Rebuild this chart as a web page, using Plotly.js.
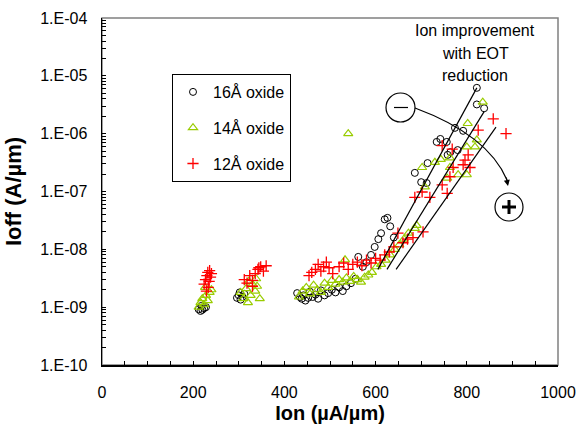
<!DOCTYPE html>
<html><head><meta charset="utf-8">
<script src="https://cdn.plot.ly/plotly-3.0.1.min.js"></script>
<style>html,body{margin:0;padding:0;background:#fff}#chart{width:576px;height:429px}</style>
</head><body><div id="chart"></div>
<script>
// ---- data ----
const ion16 = [212,216,220,224,228,218, 296,300,304,308,312,302, 428,434,438,442,446,452,456,462,468,474,480,488,496,504,512,520,528,536, 546,556,562,572,580,590,598,606,612,620,626,632,640, 686,700,712,714,734,742,756,758,764,780,774,792,822,838,822];
const ioff16 = [9.2e-10,8.6e-10,9.0e-10,9.6e-10,1.0e-9,1.05e-9, 1.45e-9,1.6e-9,1.35e-9,1.5e-9,1.7e-9,1.8e-9, 1.75e-9,1.5e-9,1.4e-9,1.6e-9,1.3e-9,1.45e-9,1.85e-9,1.5e-9,1.65e-9,1.4e-9,1.95e-9,1.6e-9,1.75e-9,2.0e-9,1.8e-9,2.2e-9,1.9e-9,2.3e-9, 2.6e-9,3.1e-9,7.4e-9,5e-9,6e-9,8e-9,1.1e-8,1.5e-8,1.9e-8,3.3e-8,3.5e-8,2.5e-8,1.6e-8, 2.1e-7,1.45e-7,1.4e-7,3.1e-7,7.2e-7,8.1e-7,7.2e-7,4.3e-7,4.8e-7,5.2e-7,1.26e-6,1.12e-6,3.2e-6,2.75e-6,6.2e-6];

const ion14 = [212,216,220,224,228,232,236,240,226, 304,310,316,320,326,330,336,340,346,322,338, 432,440,448,456,464,472,480,488,496,504,512,520,528,536,544,552,560,568,576,584,533, 592,602,612,622,632,642,652,662,672,686, 690,702,708,730,743,757,763,763,781,800,800,818,822,802,835, 540];
const ioff14 = [1.0e-9,1.2e-9,1.4e-9,1.1e-9,1.6e-9,1.3e-9,1.8e-9,2.0e-9,2.2e-9, 1.8e-9,1.4e-9,2.1e-9,1.2e-9,1.6e-9,2.5e-9,1.9e-9,2.3e-9,1.4e-9,2.8e-9,3.1e-9, 1.5e-9,1.9e-9,2.2e-9,1.7e-9,2.4e-9,2.0e-9,1.8e-9,2.6e-9,2.2e-9,2.9e-9,2.5e-9,3.0e-9,2.7e-9,3.2e-9,2.8e-9,3.4e-9,3.0e-9,2.7e-9,3.3e-9,3.6e-9,6.6e-9, 4e-9,5e-9,5.5e-9,6.5e-9,8e-9,1.0e-8,1.2e-8,1.5e-8,1.9e-8,2.3e-8, 2.6e-8,2.6e-7,1.2e-7,3.2e-7,3.6e-7,1.7e-7,3.8e-7,2.6e-7,1.95e-7,1.95e-7,5.9e-7,5.9e-7,7.8e-7,1.5e-6,3.5e-6, 1.0e-6];

const ion12 = [224,227,230,232,235,238,240,233,236,229, 312,318,324,330,336,342,348,354,360,330,344, 454,460,468,474,480,486,492,498,506,520,530,540,550,560,570,580,590,600,610,620,630,640,649,660,670,682,704, 686,702,719,746,757,746,768,803,796,807,792,770,763,825,858,886];
const ioff12 = [2.5e-9,3.0e-9,3.5e-9,4.0e-9,2.8e-9,3.3e-9,3.8e-9,2.2e-9,4.3e-9,1.9e-9, 3.0e-9,2.6e-9,3.5e-9,2.9e-9,3.8e-9,4.5e-9,5.0e-9,4.2e-9,5.2e-9,2.3e-9,4.8e-9, 3.5e-9,4.0e-9,4.5e-9,5.5e-9,4.2e-9,5.0e-9,6.0e-9,4.8e-9,3.8e-9,5.0e-9,5.8e-9,4.5e-9,5.5e-9,6.0e-9,5.2e-9,6.5e-9,5.8e-9,7e-9,6.5e-9,8e-9,9e-9,1.1e-8,1.9e-8,1.3e-8,1.5e-8,1.6e-8,2.0e-8, 7.9e-8,9.8e-8,7.9e-8,1.3e-7,9.3e-8,6.2e-7,5.4e-7,4.3e-7,3.5e-7,2.6e-7,2.9e-7,2.6e-7,1.8e-7,1.15e-6,1.8e-6,1.0e-6];

// trend lines
const fitIon16 = [605, 822], fitIoff16 = [4.5e-9, 6.2e-6];
const fitIon14 = [625, 838], fitIoff14 = [4.5e-9, 2.4e-6];
const fitIon12 = [645, 864], fitIoff12 = [4.5e-9, 1.3e-6];

const seriesNames = ['16Å oxide', '14Å oxide', '12Å oxide'];
const yTickVals = [1e-10,1e-9,1e-8,1e-7,1e-6,1e-5,1e-4];
const yTickText = ['1.E-10','1.E-09','1.E-08','1.E-07','1.E-06','1.E-05','1.E-04'];
const noteLines = ['Ion improvement', 'with EOT', 'reduction'];

// ---- geometry helpers (pixel -> paper) ----
const L = 102, R = 558, T = 18, B = 365;
const px = x => (x - L) / (R - L);
const py = y => (B - y) / (B - T);

// minor y ticks
const yMinor = [];
for (let e = -10; e < -4; e++) for (let m = 2; m <= 9; m++) yMinor.push(m * Math.pow(10, e));

const green = '#99cc00';
const traces = [
  {x: ion16, y: ioff16, name: seriesNames[0], mode: 'markers', type: 'scatter', legendgroup: 'a',
   marker: {symbol: 'circle-open', size: 7, color: '#000', line: {width: 1, color: '#000'}}},
  {x: ion14, y: ioff14, name: seriesNames[1], mode: 'markers', type: 'scatter', legendgroup: 'b',
   marker: {symbol: 'triangle-up-open', size: 8, color: green, line: {width: 1.2, color: green}}},
  {x: ion12, y: ioff12, name: seriesNames[2], mode: 'markers', type: 'scatter', legendgroup: 'c',
   marker: {symbol: 'cross-thin', size: 8, color: '#ff0000', line: {width: 1.3, color: '#ff0000'}}},
  {x: fitIon16, y: fitIoff16, mode: 'lines', showlegend: false, line: {color: '#000', width: 1.2}},
  {x: fitIon14, y: fitIoff14, mode: 'lines', showlegend: false, line: {color: '#000', width: 1.2}},
  {x: fitIon12, y: fitIoff12, mode: 'lines', showlegend: false, line: {color: '#000', width: 1.2}}
];

const fnt = 'Arial, "Liberation Sans", sans-serif';
const shapes = [
  {type: 'rect', xref: 'paper', yref: 'paper', x0: 0, x1: 1, y0: 0, y1: 1, layer: 'below',
   line: {color: '#808080', width: 1.5}},
  {type: 'circle', xref: 'paper', yref: 'paper', x0: px(386), x1: px(415), y0: py(93), y1: py(122),
   line: {color: '#000', width: 1.2}, fillcolor: '#fff'},
  {type: 'line', xref: 'paper', yref: 'paper', x0: px(394), x1: px(408), y0: py(107.5), y1: py(107.5),
   line: {color: '#000', width: 1.2}},
  {type: 'circle', xref: 'paper', yref: 'paper', x0: px(495), x1: px(523), y0: py(193), y1: py(221),
   line: {color: '#000', width: 1.2}, fillcolor: '#fff'},
  {type: 'line', xref: 'paper', yref: 'paper', x0: px(502), x1: px(516), y0: py(207), y1: py(207),
   line: {color: '#000', width: 3}},
  {type: 'line', xref: 'paper', yref: 'paper', x0: px(509), x1: px(509), y0: py(200), y1: py(214),
   line: {color: '#000', width: 3}},
  {type: 'path', xref: 'paper', yref: 'paper',
   path: `M ${px(415)},${py(108)} Q ${px(488)},${py(135)} ${px(507)},${py(180)}`,
   line: {color: '#000', width: 1.2}}
];

const annotations = noteLines.map((t, i) => ({
  text: t, xref: 'paper', yref: 'paper', x: px(475), y: py(31 + 22 * i), showarrow: false,
  xanchor: 'center', yanchor: 'middle', font: {family: fnt, size: 16, color: '#000'}
}));
annotations.push({text: '', xref: 'paper', yref: 'paper', x: px(508), y: py(186), ax: -2, ay: -10,
  showarrow: true, arrowhead: 2, arrowsize: 1, arrowwidth: 1.2, arrowcolor: '#000'});

const layout = {
  width: 576, height: 429,
  margin: {l: L, r: 576 - R, t: T, b: 429 - B},
  paper_bgcolor: '#fff', plot_bgcolor: '#fff',
  font: {family: fnt, size: 16, color: '#000'},
  showlegend: true,
  legend: {x: px(172), y: py(74), xanchor: 'left', yanchor: 'top', bgcolor: '#fff',
    bordercolor: '#000', borderwidth: 1, font: {family: fnt, size: 16, color: '#000'},
    tracegroupgap: 12, traceorder: 'grouped'},
  xaxis: {range: [0, 1000], dtick: 200, ticks: 'inside', ticklen: 4, tickwidth: 1, tickcolor: '#000',
    showgrid: false, zeroline: false, showline: true, linecolor: '#000', linewidth: 1.5,
    minor: {dtick: 50, ticks: 'inside', ticklen: 4, tickcolor: '#000', showgrid: false},
    tickfont: {family: fnt, size: 16, color: '#000'}, ticklabelstandoff: 12,
    title: {text: 'Ion (µA/µm)', font: {family: fnt, size: 20, color: '#000', weight: 'bold'}, standoff: 6}},
  yaxis: {type: 'log', range: [-10, -4], tickvals: yTickVals.concat(yMinor),
    ticktext: yTickText.concat(yMinor.map(() => '')),
    ticks: 'inside', ticklen: 4, tickwidth: 1, tickcolor: '#000',
    showgrid: false, zeroline: false, showline: true, linecolor: '#000', linewidth: 1.5,
    tickfont: {family: fnt, size: 16, color: '#000'}, ticklabelstandoff: 10,
    title: {text: 'Ioff (A/µm)', font: {family: fnt, size: 22, color: '#000', weight: 'bold'}, standoff: 12}},
  shapes: shapes, annotations: annotations
};

Plotly.newPlot('chart', traces, layout, {displayModeBar: false, staticPlot: true});
</script>
</body></html>
